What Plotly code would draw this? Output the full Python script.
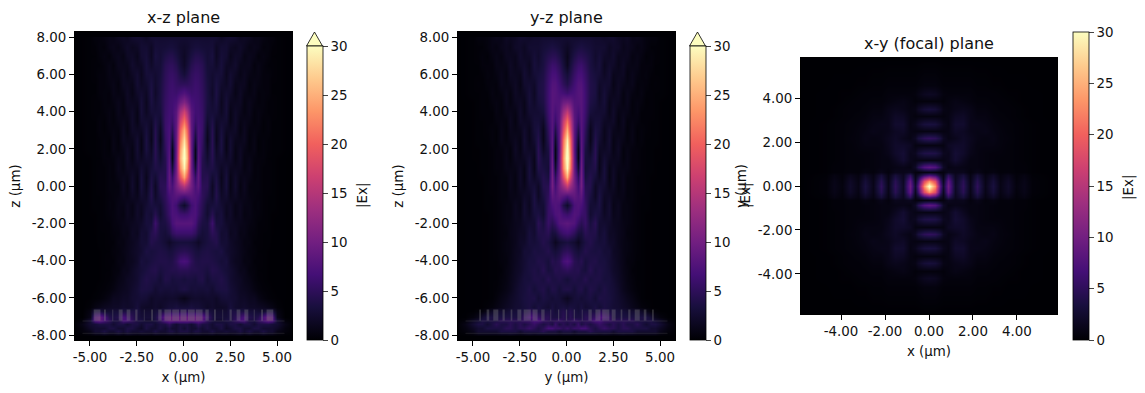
import numpy as np
import plotly.graph_objects as go

X_COLS = [0, .2, .4, .6, .8, 1, 1.25, 1.5, 1.75, 2, 2.25, 2.5, 2.75, 3, 3.25, 3.5, 3.75, 4, 4.25, 4.5, 4.75, 5, 5.4, 5.82]
Z_ROWS = [8.3, 8.08, 8.0, 7.5, 7, 6.5, 6, 5.5, 5, 4.5, 4, 3.5, 3, 2.5, 2, 1.5, 1, .5, 0, -.5, -1, -1.5, -2, -2.5, -3, -3.5,
          -4, -4.5, -5, -5.5, -6, -6.5, -6.7, -7, -7.2, -7.4, -7.6, -7.8, -7.95, -8.05, -8.3]

XZ_FIELD = [
 [0,0,0,0,0,0,0,0,0,0,0,0,0,0,0,0,0,0,0,0,0,0,0,0],
 [0,0,0,0,0,0,0,0,0,0,0,0,0,0,0,0,0,0,0,0,0,0,0,0],
 [2.6,2.6,2.6,2.6,2.6,2.6,2.6,2.7,2.7,1.9,2.4,2.6,2.4,1.6,1.8,1.6,1,1.1,.8,.5,.5,.2,.08,0],
 [2.2,2.4,2.9,3.2,3.2,3,2.9,3,1.9,2.7,2.7,1.9,1.6,2.1,1.6,1,1.3,1.1,.5,.6,.3,.2,.08,0],
 [1.9,2.6,3.5,4.2,4.2,3.8,2.9,3.4,1.8,3,2.6,1.4,2.1,1.9,1,1.4,1.1,.5,.8,.5,.2,.2,.08,0],
 [2.1,3,4.3,5,5,4.5,3,3,2.2,3.2,1.9,1.8,2.4,1.3,1.3,1.4,.6,1,.6,.3,.3,.2,.08,0],
 [3,3.8,5,5.6,5.5,4.8,3.2,2.6,3,3,1.6,2.6,1.9,1.1,1.6,1,.8,1,.5,.5,.3,.2,.08,0],
 [5,5,5.4,6,5.8,5,3.4,2.4,3.5,2.4,1.9,2.7,1.3,1.6,1.6,.6,1.1,.8,.5,.5,.2,.2,.08,0],
 [7.5,6.8,6,6.2,6,5.2,3.5,2.2,3.7,1.9,2.6,2.2,1.1,1.9,1.1,.8,1.1,.5,.6,.5,.2,.2,.08,0],
 [11,9.5,7,6.4,6.2,5.4,3.5,2.6,3.5,1.6,3,1.6,1.6,1.8,.8,1.3,.8,.5,.6,.3,.3,.2,.08,0],
 [17,14,8.2,6.4,6.4,5.6,3.2,3,3,1.8,3,1.1,2.1,1.4,.8,1.3,.5,.8,.5,.3,.3,.2,.08,0],
 [21,17,8.6,5.8,6.6,5.8,2.6,3.8,2.1,2.6,2.6,1.1,2.2,1,1.3,1,.5,.8,.3,.5,.2,.2,.08,0],
 [25,20,9,4.5,7,5.8,1.8,4.4,1.6,3.2,1.8,1.8,2.1,.8,1.6,.6,.8,.6,.3,.5,.2,.2,.08,0],
 [28,22,9.4,2.8,7.2,5.4,1.4,4.6,1.4,3.6,1.1,2.6,1.4,1.3,1.6,.5,1,.3,.5,.3,.2,.2,.08,0],
 [30,24,9.5,1.2,7.6,5,2,4.6,1.9,3.5,1.1,2.7,1,1.8,1.1,.6,1,.3,.5,.3,.2,.2,.08,0],
 [31,25,10,1,8,4.4,2.6,4.4,2.4,2.7,1.8,2.4,1,1.9,.8,1.1,.6,.5,.5,.2,.2,.08,.03,0],
 [29,23,10,3,8.4,4.2,3.6,3.8,3,1.9,2.7,1.6,1.6,1.6,.8,1.3,.5,.6,.3,.3,.2,.08,.03,0],
 [24,19,10.5,5.5,8.8,4.2,4.4,2.7,3.6,1.4,3.2,1.1,2.2,1.1,1.3,1,.5,.6,.3,.3,.2,.08,.03,0],
 [15,13,10,7,8.4,4.8,4.6,1.9,4,1.6,3.2,1,2.4,.8,1.6,.6,.6,.6,.3,.3,.2,.08,.03,0],
 [7,7.5,8,7.4,6.8,5,3.8,2.2,4.2,2.1,2.6,1.4,1.9,1.1,1.3,.8,.6,.5,.3,.2,.2,.08,.03,0],
 [2.2,3.6,6.2,7.2,6,4.6,2.8,3.2,3.5,2.7,1.8,2.1,1.1,1.6,1,1,.5,.6,.3,.2,.2,.08,.03,0],
 [6,6.2,7,7.2,5.8,4.2,2.6,4.4,2.8,3.2,1.6,2.2,1.1,1.6,.8,1,.6,.5,.3,.2,.08,.08,.03,0],
 [8,8,8,6.8,4.8,3.6,3.4,6,3.2,3.2,2.2,1.9,1.6,1.3,1.1,.8,.6,.3,.3,.2,.08,.03,.03,0],
 [6,6,6,5.2,3.8,3,3.4,4.8,4.2,2.6,2.8,1.6,1.9,1,1.1,.6,.5,.3,.2,.2,.08,.03,.03,0],
 [3.2,3.2,3,2.6,2,2.8,3.4,3.8,4.2,2.8,2.8,2.1,1.6,1.3,.8,.8,.3,.3,.2,.2,.03,.03,.03,0],
 [4.6,4.4,4,3.4,3.2,3.6,3.8,3.5,3.3,3.6,2.6,2.2,1.8,1.3,1,.6,.5,.2,.2,.08,.03,.03,.03,0],
 [7,6.6,5,4,3.8,4,4,3.8,3.5,3,3.3,2.2,1.6,1.4,.8,.8,.3,.3,.2,.08,.03,.03,.03,0],
 [4.6,4.6,4.2,4.2,4,3.8,3.4,4.2,4,3.5,3,2.6,2,1.3,1.3,.6,.5,.2,.2,.08,.03,.03,.03,0],
 [3.2,3.5,3.5,3.2,3.8,4,2.8,3.6,3.6,4,3.4,2.6,2.1,1.8,1.3,1,.5,.3,.2,.08,.03,.03,.03,0],
 [3.8,3.5,3,3.2,3,3,3.2,2.6,3.4,3.6,3.6,2.9,2.4,1.8,1.6,1.3,.8,.5,.3,.2,.08,.03,.03,0],
 [1.2,1.6,2.2,2.4,2.4,2.2,2.4,2.4,2,2.8,3,2.8,2.6,2,2,1.6,1.6,1,.6,.3,.2,.08,.03,0],
 [3,3,3.4,3,3,2.6,2,2.4,2,2,2.2,3.2,2.4,2.2,2.4,2,2,1.8,1.6,1.2,.9,.3,0,0],
 [4.6,4.6,4.6,4.6,4.6,4,3.6,3,2.6,2.6,2.6,3.6,3.6,3.6,3.6,3,3,2.6,2.6,3.6,3.6,.8,0,0],
 [9,9,9,9,9,8.4,6,3.6,3,3,3,3.6,4.6,6,7,4.2,3.6,4.2,7,9,8,1.2,0,0],
 [9,9,9,9,9,8,5,3.6,2.6,2.6,3.6,3.6,5,7,7,3.6,3.6,5,7,9,8,2.6,.4,0],
 [3.6,3.6,2.6,3.6,5,3.6,3.6,2.6,3.6,3.6,2.6,3.6,3.6,2.6,3.6,3.6,2.6,3.6,3.6,3.6,3,2.6,1,.2],
 [2.6,3.6,2.6,2.6,3.6,2.6,3.6,2.6,2.6,3.6,2,2.6,3.6,3.6,2.6,2.6,3.6,3.6,2.6,2.6,2.6,2,.6,.1],
 [3.6,3.6,2.6,3.6,3.6,2.6,2.6,3.6,2.6,2.6,3,2.6,2.6,3.6,2.6,3.6,2.6,2.6,3.6,2.6,2.6,1.2,.5,.1],
 [1.8,1.8,1.5,1.8,1.8,1.5,1.5,1.8,1.2,1.5,1.5,1.2,1.5,1.8,1.2,1.8,1.2,1.2,1.8,1.2,1.2,.6,.2,.05],
 [0,0,0,0,0,0,0,0,0,0,0,0,0,0,0,0,0,0,0,0,0,0,0,0],
 [0,0,0,0,0,0,0,0,0,0,0,0,0,0,0,0,0,0,0,0,0,0,0,0],
]

YZ_FIELD = [
 [0,0,0,0,0,0,0,0,0,0,0,0,0,0,0,0,0,0,0,0,0,0,0,0],
 [0,0,0,0,0,0,0,0,0,0,0,0,0,0,0,0,0,0,0,0,0,0,0,0],
 [2.6,2.6,2.5,2.5,2.6,2.6,2.6,2.4,2.4,2.1,2.4,2.4,1.8,1.6,1.8,1.1,1.3,1,.6,.5,.5,.2,.08,0],
 [1.9,2.4,3,3.4,3.6,3.3,3,2.6,2.6,2.6,1.8,2.2,2.1,1.3,1.6,1.3,.8,1,.6,.3,.3,.2,.08,0],
 [1.4,2.6,3.8,4.6,4.6,4.2,3.4,2.4,3,2.1,1.9,2.4,1.4,1.6,1.6,.8,1.1,.8,.3,.5,.3,.2,.08,0],
 [1.6,3.2,4.8,5.8,6,5,3.5,2.7,3.2,1.6,2.4,2.1,1.3,1.9,1.1,1,1.1,.5,.5,.5,.2,.2,.08,0],
 [3,4,5.6,6.8,6.8,5.6,3.8,3.2,2.9,1.9,2.7,1.4,1.6,1.8,.8,1.3,.8,.5,.6,.3,.2,.2,.08,0],
 [4,5,6.4,7.6,7.6,6,4,3.5,2.2,2.6,2.4,1.1,1.9,1.3,1,1.3,.5,.6,.5,.2,.3,.2,.08,0],
 [6,6.6,7,7.8,8,6.2,4,3.5,1.9,3,1.8,1.4,1.9,.8,1.4,.8,.5,.8,.3,.3,.2,.2,.08,0],
 [10,9.5,7.6,7.6,8,6.2,3.8,3.2,2.2,3,1.3,1.9,1.6,.8,1.4,.5,.8,.6,.2,.3,.2,.08,.03,0],
 [16,13,8,6.8,8,6,3.2,2.7,2.7,2.6,1.3,2.2,1,1.3,1.1,.5,.8,.3,.3,.3,.2,.08,.03,0],
 [21,16,8.4,5.8,8,5.6,2.2,3,3,1.9,1.8,2.1,.8,1.6,.6,.8,.6,.3,.3,.2,.2,.08,.03,0],
 [25,18,8.4,4,8,5,1.4,3.6,3,1.4,2.4,1.4,1.1,1.4,.5,1,.3,.5,.3,.2,.2,.08,.03,0],
 [29,21,8.4,2.2,8.2,4.4,1.3,4.2,2.6,1.4,2.6,1,1.6,1.1,.6,1,.3,.5,.2,.2,.2,.08,.03,0],
 [31,22,8.4,1,8.4,3.6,1.9,4.6,1.9,1.9,2.4,1,1.9,.6,1,.6,.5,.3,.2,.2,.08,.08,.03,0],
 [32,23,9,.9,9,3.2,2.9,4.6,1.4,2.7,1.8,1.4,1.6,.6,1.1,.5,.5,.3,.2,.2,.08,.08,.03,0],
 [30,22,9.4,2.6,9.6,2.9,3.5,4,1.3,3.2,1.1,1.9,1.1,1,1,.5,.5,.3,.2,.2,.08,.03,.03,0],
 [25,18,10,5,10,3.4,4.2,3,1.9,3.2,1,2.1,.8,1.3,.6,.6,.3,.3,.2,.08,.08,.03,.03,0],
 [16,13,10,6.6,10,4.4,4.2,1.9,3,2.6,1.4,1.9,.8,1.3,.6,.6,.3,.3,.2,.08,.03,.03,.03,0],
 [7,8,8.6,7.6,8.4,5,3.5,1.9,3.6,1.9,2.1,1.4,1.1,1.1,.6,.6,.3,.2,.2,.08,.03,.03,.03,0],
 [2.2,4,7,7.6,7,5.4,2.8,2.8,3.6,1.6,2.6,1.1,1.6,.8,.8,.5,.3,.2,.2,.08,.03,.03,.03,0],
 [5.8,6.4,7.6,7.2,6,5.6,2.6,3.6,3.2,1.9,2.6,1.3,1.6,.8,.8,.5,.3,.2,.08,.08,.03,.03,.03,0],
 [8.4,8,7.6,5.6,4.6,5.6,3.4,4.6,2.6,2.6,2.2,1.6,1.4,1,.8,.5,.3,.2,.08,.08,.03,.03,.03,0],
 [6.4,6,5,3.4,3.2,4.6,4,4,2.6,3.2,1.9,1.9,1.4,1.1,.6,.5,.3,.2,.08,.08,.03,.03,.03,0],
 [3.4,3,2.6,1.6,2.6,3.6,4.2,3.4,3,3.2,2.2,2.1,1.4,1,.8,.5,.3,.2,.08,.08,.03,.03,.03,0],
 [5,4.6,3.6,3,3.4,4.2,3.6,3.4,3.6,2.9,2.9,1.9,1.6,1,.8,.5,.3,.2,.08,.08,.03,.03,.03,0],
 [7.4,6.6,4.6,4,4.4,3.2,3.8,4,3.4,3.4,2.7,2.2,1.6,1.1,.6,.5,.2,.2,.08,.08,.03,.03,.03,0],
 [5,4.6,4.2,4.4,3.6,3.2,4.4,3.4,3.8,3.4,2.9,2.2,1.8,1.1,.8,.3,.2,.2,.08,.08,.03,.03,.03,0],
 [3,3.5,4,3.6,3.6,4.4,3.4,3.8,3.8,3.2,3.2,2.6,1.9,1.3,.8,.5,.2,.2,.08,.08,.03,.03,.03,0],
 [4,3.8,3,3.8,4,3,4,3.6,3,3.8,3.2,2.9,2.2,1.4,1,.6,.3,.2,.08,.08,.03,.03,.03,0],
 [1.6,2.2,3,3.2,2.8,3.2,3.6,2.8,3.8,3.6,3.4,2.9,2.4,1.9,1.4,1,.5,.2,.08,.08,.03,.03,.03,0],
 [3,3.4,3.2,2.8,3.4,2.6,3,3.6,2.8,3.6,3.2,2.8,2.6,2.1,1.8,1.3,.9,.5,.3,.1,.05,.03,.03,0],
 [3.6,4.2,3.6,3,3.6,3.6,3.6,3.6,4.6,4.6,3.6,3.6,3,3,2.6,2.6,2.6,2,1.3,.5,.3,.08,.03,0],
 [3.6,4.6,3.6,3.6,3.6,4.6,4.6,5.6,7,7,5.6,3.6,3.6,3.6,3.6,3.6,3.6,3.6,3.6,2.6,1.3,.6,.08,0],
 [4.6,4.6,5.6,4.6,4.6,4.6,5.6,7,7,5.6,5.6,4.6,4.6,4.6,4.6,4.6,3.6,3.6,3.6,3.6,2.6,1.8,.4,.05],
 [3.6,4.6,3.6,5.6,3.6,4.6,3.6,4.6,5.6,4.6,3.6,4.6,3.6,4.6,3.6,3.6,4.6,3.6,2.6,3.6,3.6,2.6,1,.2],
 [5.6,4.6,5.6,5.6,6.6,6.6,4.6,3.6,4.6,5.6,4.6,4.6,3.6,4.6,4.6,3.6,3.6,3.6,3.6,2.6,2.6,1.8,.7,.1],
 [3.6,3.6,2.6,3.6,3.6,3.6,4.6,3.6,3.6,3.6,3.6,2.6,3.6,3.6,3.6,3.6,2.6,2.6,2.6,2.6,2.6,1.3,.5,.1],
 [1.8,1.8,1.5,1.8,1.8,1.8,1.8,1.8,1.5,1.8,1.5,1.2,1.5,1.8,1.5,1.5,1.2,1.2,1.2,1.2,1.2,.6,.2,.05],
 [0,0,0,0,0,0,0,0,0,0,0,0,0,0,0,0,0,0,0,0,0,0,0,0],
 [0,0,0,0,0,0,0,0,0,0,0,0,0,0,0,0,0,0,0,0,0,0,0,0],
]

FOCAL_X = [0, .25, .5, .65, .86, 1.2, 1.55, 1.87, 2.2, 2.55, 2.9, 3.25, 3.6, 3.95, 4.3, 4.7, 5.82]
FOCAL_Y = [0, .25, .5, .62, .86, 1.18, 1.5, 1.85, 2.2, 2.5, 2.83, 3.17, 3.5, 3.85, 4.2, 4.6, 5.82]
FOCAL_FIELD = [
 [31,23,8,2.5,9.5,2,5,1.2,5,1.2,3.4,1,2.2,.6,1.2,.3,0],
 [23,18,6,1.6,8.5,1.8,4.6,1.1,4.4,1.1,3,.9,2,.5,1.1,.3,0],
 [7,5.5,2.4,1,5,1.6,3.2,.9,3,.9,2,.7,1.3,.4,.8,.2,0],
 [1,.9,.6,.7,1.6,1.2,1.4,.6,1.2,.5,.8,.4,.5,.3,.3,.1,0],
 [8.5,7.6,4.6,2,.9,1.2,1,.8,.8,.6,.5,.4,.4,.3,.3,.1,0],
 [1,1,1,1,1.4,2.6,1.6,.8,.8,.6,.5,.4,.4,.3,.2,.1,0],
 [4,3.8,2.8,1.6,1.4,2.8,2.2,1.2,.8,.6,.5,.5,.4,.3,.2,.1,0],
 [.8,.8,.8,.8,1.8,2.2,2.2,1.4,.8,.8,.8,.6,.4,.3,.2,.1,0],
 [5.2,4.8,3.4,1.8,1,1.4,2,1.5,1,.8,1,.6,.5,.3,.2,.1,0],
 [.9,.9,.8,.8,1,2,1.8,1.2,1,1.2,.8,.6,.4,.3,.2,.1,0],
 [3.4,3.2,2.2,1.4,.9,2.4,2.4,1.2,1.2,1,.7,.5,.4,.3,.2,.1,0],
 [.7,.7,.7,.6,.9,1.8,2,1.2,.8,.8,.5,.4,.3,.2,.1,.05,0],
 [3.2,2.9,1.9,1,.8,1.2,1.4,1.1,.6,.6,.4,.3,.3,.2,.1,.05,0],
 [.5,.5,.5,.4,.7,1,.8,.6,.4,.4,.3,.3,.2,.1,.05,.05,0],
 [1.8,1.6,1,.6,.5,.5,.5,.5,.3,.3,.3,.2,.1,.1,.05,.05,0],
 [.6,.6,.4,.3,.3,.3,.3,.3,.2,.2,.1,.1,.05,.05,.05,.02,0],
 [0,0,0,0,0,0,0,0,0,0,0,0,0,0,0,0,0],
]

PILLAR_POS = [0, .42, .84, 1.26, 1.68, 2.1, 2.52, 2.94, 3.36, 3.78, 4.2, 4.62]
XZ_WIDTHS = [.32, .36, .36, .18, .1, .04, .12, .2, .21, .05, .1, .36]
YZ_WIDTHS = [.07, .07, .05, .18, .27, .38, .21, .09, .12, .27, .14, .09]
PILLAR_BASE = -7.22
PILLAR_HEIGHT = .6
INTERFACE_Z = [-7.24, -7.9]

XZ_TICKS_X = [-5, -2.5, 0, 2.5, 5]
XZ_TICKS_Y = [-8, -6, -4, -2, 0, 2, 4, 6, 8]
FOCAL_TICKS = [-4, -2, 0, 2, 4]
CBAR_TICKS = [0, 5, 10, 15, 20, 25, 30]
FONT = "DejaVu Sans"
INK = "#111111"
TICK = 13.4
W, H = 1145, 393


def lab(v):
    return [f"{t:.2f}" for t in v]


def mirror_x(vals, rows):
    a = np.asarray(rows, float)
    return np.r_[-np.array(vals)[:0:-1], vals], np.c_[a[:, :0:-1], a]


def mirror_y(vals, rows):
    a = np.asarray(rows, float)
    return np.r_[-np.array(vals)[:0:-1], vals], np.r_[a[:0:-1], a]


fig = go.Figure()


def axes(n, px, py, xr, yr, xt, yt, xtitle, ytitle, xso, yso):
    sx = "" if n == 1 else str(n)
    base = dict(showgrid=False, zeroline=False, showline=True, linecolor="black", linewidth=0.8, mirror=True,
                ticks="outside", ticklen=5, tickwidth=0.8, tickcolor="black", tickangle=0,
                tickfont=dict(family=FONT, size=TICK, color=INK), tickmode="array")
    fig.layout["xaxis" + sx] = dict(base, domain=[px[0] / W, px[1] / W], range=xr, tickvals=xt, ticktext=lab(xt),
                                    anchor="y" + sx, automargin=False,
                                    title=dict(text=xtitle, standoff=xso, font=dict(family=FONT, size=TICK, color=INK)))
    fig.layout["yaxis" + sx] = dict(base, domain=[1 - py[1] / H, 1 - py[0] / H], range=yr, tickvals=yt, ticktext=lab(yt),
                                    anchor="x" + sx, automargin=False,
                                    title=dict(text=ytitle, standoff=yso, font=dict(family=FONT, size=TICK, color=INK)))


def cbar(x0, ln):
    return dict(x=x0 / W, xanchor="left", xpad=0, ypad=0, thickness=16, len=ln / H, lenmode="fraction",
                y=1 - 340 / H, yanchor="bottom", outlinecolor="black", outlinewidth=0.8, tickmode="array",
                tickvals=CBAR_TICKS, ticks="outside", ticklen=5, tickwidth=0.8,
                tickfont=dict(family=FONT, size=TICK, color=INK))


zr = np.array(Z_ROWS)[::-1]


def side_panel(n, field, widths, cbx):
    sx = "" if n == 1 else str(n)
    x, z = mirror_x(X_COLS, np.asarray(field, float)[::-1])
    fig.add_trace(go.Heatmap(x=x, y=zr, z=z, zmin=0, zmax=30, zsmooth="best", colorscale="Magma",
                             xaxis="x" + sx, yaxis="y" + sx, hoverinfo="skip", colorbar=cbar(cbx, 294)))
    centers = np.r_[-np.array(PILLAR_POS)[:0:-1], PILLAR_POS]
    wid = np.r_[np.array(widths)[:0:-1], widths]
    fig.add_trace(go.Bar(x=centers, y=[PILLAR_HEIGHT] * len(centers), base=PILLAR_BASE, width=wid,
                         marker=dict(color="rgba(128,128,128,0.36)", line=dict(width=0)),
                         xaxis="x" + sx, yaxis="y" + sx, showlegend=False, hoverinfo="skip"))
    for zi in INTERFACE_Z:
        fig.add_trace(go.Scatter(x=[x[1], x[-2]], y=[zi, zi], mode="lines",
                                 line=dict(color="rgba(120,120,120,0.22)", width=1),
                                 xaxis="x" + sx, yaxis="y" + sx, showlegend=False, hoverinfo="skip"))


side_panel(1, XZ_FIELD, XZ_WIDTHS, 306.5)
side_panel(2, YZ_FIELD, YZ_WIDTHS, 689.5)

fx, fz = mirror_x(FOCAL_X, FOCAL_FIELD)
fy, fz = mirror_y(FOCAL_Y, fz)
fig.add_trace(go.Heatmap(x=fx, y=fy, z=fz, zmin=0, zmax=30, zsmooth="best", colorscale="Magma",
                         xaxis="x3", yaxis="y3", hoverinfo="skip", colorbar=cbar(1072.5, 308)))

axes(1, (75, 292), (32, 340), [-5.8, 5.8], [-8.26, 8.28], XZ_TICKS_X, XZ_TICKS_Y, "x (µm)", "z (µm)", 8, 8)
axes(2, (458, 675), (32, 340), [-5.8, 5.8], [-8.26, 8.28], XZ_TICKS_X, XZ_TICKS_Y, "y (µm)", "z (µm)", 8, 8)
axes(3, (801, 1057), (58, 314), [-5.82, 5.82], [-5.82, 5.82], FOCAL_TICKS, FOCAL_TICKS, "x (µm)", "y (µm)", 8, 8)

ann = []
for xc, yc, t in [(183.5, 17.5, "x-z plane"), (566.5, 17.5, "y-z plane"), (929, 43.5, "x-y (focal) plane")]:
    ann.append(dict(x=xc / W, y=1 - yc / H, xref="paper", yref="paper", text=t, showarrow=False, xanchor="center",
                    yanchor="middle", font=dict(family=FONT, size=16, color=INK)))
for xc, yc in [(363, 196), (746, 196), (1129, 188)]:
    ann.append(dict(x=xc / W, y=1 - yc / H, xref="paper", yref="paper", text="|Ex|", showarrow=False, textangle=-90,
                    xanchor="center", yanchor="middle", font=dict(family=FONT, size=TICK, color=INK)))

shapes = []
for x0 in (306.5, 689.5):
    xa, xb, xm = x0 / W, (x0 + 16) / W, (x0 + 8) / W
    ya, yb = 1 - 46 / H, 1 - 32 / H
    shapes.append(dict(type="path", xref="paper", yref="paper", path=f"M {xa} {ya} L {xm} {yb} L {xb} {ya} Z",
                       fillcolor="#fcfdbf", opacity=1, layer="above", line=dict(color="black", width=0.8)))

fig.update_layout(width=W, height=H, margin=dict(l=0, r=0, t=0, b=0), autosize=False, paper_bgcolor="white",
                  plot_bgcolor="black", barmode="overlay", showlegend=False, annotations=ann, shapes=shapes)
fig.write_html("out.html", config={"displayModeBar": False},
               post_script="document.body.style.margin='0';document.body.style.overflow='hidden';")
